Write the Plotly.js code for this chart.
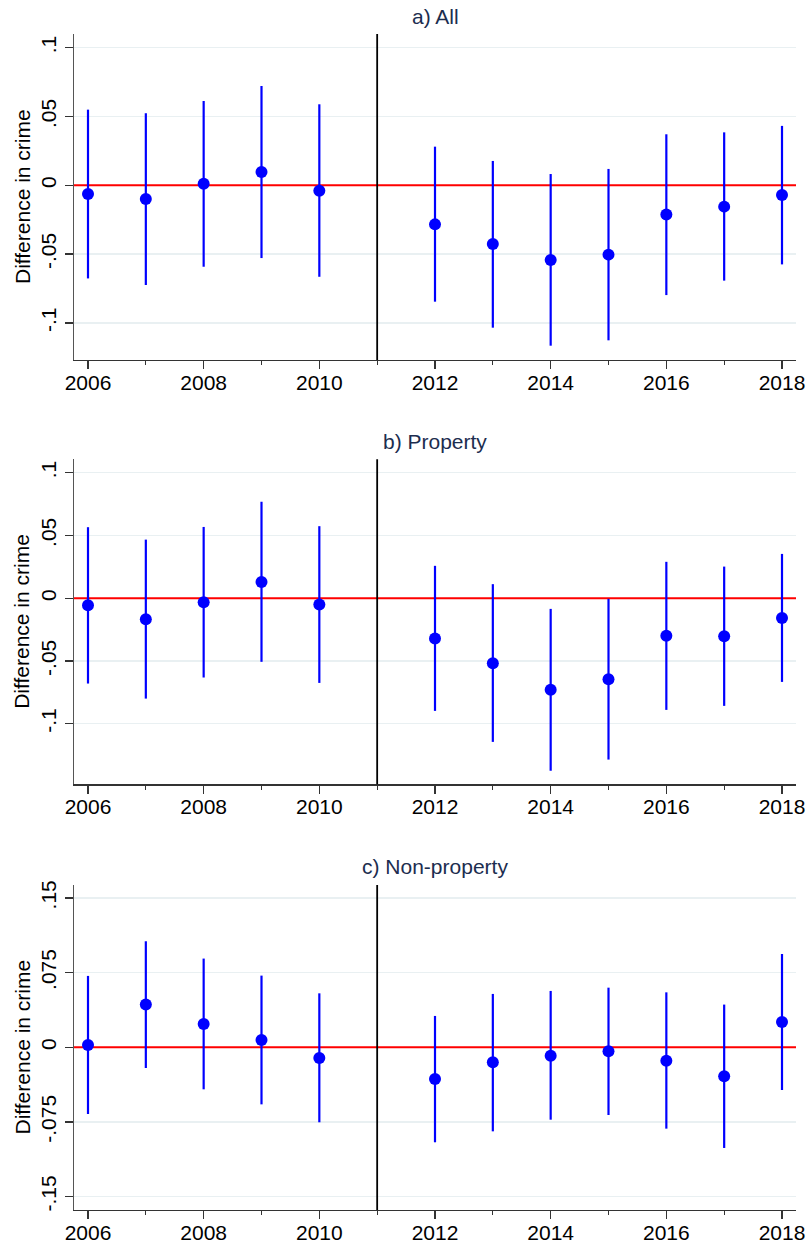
<!DOCTYPE html>
<html>
<head>
<meta charset="utf-8">
<script src="https://cdn.plot.ly/plotly-3.0.1.min.js"></script>
<style>
  html, body { margin: 0; padding: 0; background: #ffffff; }
  #chart { width: 808px; height: 1246px; }
</style>
</head>
<body>
<div id="chart"></div>
<script>
// Event-study estimates with 95% confidence intervals, by year
const years = [2006, 2007, 2008, 2009, 2010, 2012, 2013, 2014, 2015, 2016, 2017, 2018];

// a) All crime
const allEst = [-0.0063, -0.0100, 0.0012, 0.0097, -0.0039, -0.0284, -0.0427, -0.0543, -0.0504, -0.0213, -0.0155, -0.0070];
const allLo  = [-0.0677, -0.0725, -0.0592, -0.0529, -0.0665, -0.0846, -0.1035, -0.1166, -0.1127, -0.0798, -0.0693, -0.0575];
const allHi  = [0.0550, 0.0524, 0.0613, 0.0722, 0.0589, 0.0281, 0.0177, 0.0082, 0.0119, 0.0371, 0.0385, 0.0432];

// b) Property crime
const propEst = [-0.0056, -0.0167, -0.0032, 0.0130, -0.0050, -0.0321, -0.0518, -0.0730, -0.0645, -0.0300, -0.0303, -0.0157];
const propLo  = [-0.0680, -0.0800, -0.0632, -0.0507, -0.0675, -0.0898, -0.1145, -0.1376, -0.1286, -0.0890, -0.0858, -0.0667];
const propHi  = [0.0566, 0.0467, 0.0568, 0.0768, 0.0574, 0.0258, 0.0112, -0.0085, -0.0005, 0.0290, 0.0252, 0.0353];

// c) Non-property crime
const nonEst = [0.0023, 0.0429, 0.0234, 0.0074, -0.0107, -0.0318, -0.0151, -0.0084, -0.0040, -0.0134, -0.0291, 0.0254];
const nonLo  = [-0.0670, -0.0208, -0.0422, -0.0573, -0.0753, -0.0954, -0.0844, -0.0727, -0.0680, -0.0817, -0.1011, -0.0429];
const nonHi  = [0.0717, 0.1065, 0.0891, 0.0720, 0.0542, 0.0315, 0.0536, 0.0566, 0.0599, 0.0552, 0.0429, 0.0937];

const panelTitles = ['a) All', 'b) Property', 'c) Non-property'];
const yTitle = 'Difference in crime';
const xTickVals = [2006, 2008, 2010, 2012, 2014, 2016, 2018];
const xMinorVals = [2007, 2009, 2011, 2013, 2015, 2017];
const yTickVals = [[-0.1, -0.05, 0, 0.05, 0.1], [-0.1, -0.05, 0, 0.05, 0.1], [-0.15, -0.075, 0, 0.075, 0.15]];
const yTickText = [['-.1', '-.05', '0', '.05', '.1'], ['-.1', '-.05', '0', '.05', '.1'], ['-.15', '-.075', '0', '.075', '.15']];
const treatYear = 2011;
const refLevel = 0;

const W = 808, H = 1246;
const FONT = 'Liberation Sans, Arial, sans-serif';
const BLUE = '#0000ff';

// plot areas in pixels: [top, bottom]
const rows = [[34, 360], [459.3, 784.3], [885, 1210]];
const plotLeft = 74, plotRight = 796;
const yRanges = [[-0.127, 0.110], [-0.1483, 0.1107], [-0.1634, 0.163]];
const xRange = [2005.758, 2018.242];
const titleY = [17, 441.7, 866.7];

const series = [[allEst, allLo, allHi], [propEst, propLo, propHi], [nonEst, nonLo, nonHi]];

const data = [];
const layout = {
  width: W, height: H,
  margin: {l: 0, r: 0, t: 0, b: 0},
  paper_bgcolor: '#ffffff',
  plot_bgcolor: '#ffffff',
  showlegend: false,
  font: {family: FONT, size: 21, color: '#000000'},
  annotations: [],
  shapes: []
};

series.forEach((s, i) => {
  const [est, lo, hi] = s;
  const sfx = i === 0 ? '' : String(i + 1);

  // zero reference line, drawn first so the estimates sit on top of it
  data.push({
    type: 'scatter', mode: 'lines',
    x: xRange, y: [refLevel, refLevel],
    xaxis: 'x' + sfx, yaxis: 'y' + sfx,
    line: {color: '#ff0000', width: 2},
    hoverinfo: 'skip', cliponaxis: true
  });

  data.push({
    type: 'scatter', mode: 'markers',
    x: years, y: est,
    xaxis: 'x' + sfx, yaxis: 'y' + sfx,
    marker: {color: BLUE, size: 12},
    error_y: {
      type: 'data', symmetric: false,
      array: hi.map((h, k) => h - est[k]),
      arrayminus: lo.map((l, k) => est[k] - l),
      color: BLUE, thickness: 2.2, width: 0
    },
    hoverinfo: 'x+y'
  });

  const top = rows[i][0], bot = rows[i][1];
  layout['xaxis' + sfx] = {
    domain: [plotLeft / W, plotRight / W],
    anchor: 'y' + sfx,
    range: xRange,
    tickvals: xTickVals,
    ticktext: xTickVals.map(String),
    ticks: 'outside', ticklen: 8, tickwidth: 1.3, tickcolor: '#333333',
    ticklabelstandoff: -5,
    minor: {tickvals: xMinorVals, ticks: 'outside', ticklen: 4, tickwidth: 1.3, tickcolor: '#333333', showgrid: false},
    showline: true, linecolor: '#333333', linewidth: 1.4,
    showgrid: false, zeroline: false,
    tickfont: {family: FONT, size: 21, color: '#000000'}
  };
  layout['yaxis' + sfx] = {
    domain: [1 - bot / H, 1 - top / H],
    anchor: 'x' + sfx,
    range: yRanges[i],
    tickvals: yTickVals[i],
    ticktext: yTickText[i],
    tickangle: -90,
    ticks: 'outside', ticklen: 8, tickwidth: 1.3, tickcolor: '#333333',
    showline: true, linecolor: '#555555', linewidth: 1.4,
    showgrid: true, gridcolor: '#e9f0f2', gridwidth: 1.3,
    zeroline: false,
    tickfont: {family: FONT, size: 21, color: '#000000'}
  };

  // treatment year marker
  layout.shapes.push({
    type: 'line', xref: 'x' + sfx, yref: 'y' + sfx + ' domain',
    x0: treatYear, x1: treatYear, y0: 0, y1: 1,
    line: {color: '#000000', width: 1.8}, layer: 'above'
  });

  layout.annotations.push({
    text: panelTitles[i], xref: 'paper', yref: 'paper',
    x: (plotLeft + plotRight) / 2 / W, y: 1 - titleY[i] / H,
    xanchor: 'center', yanchor: 'middle', showarrow: false,
    font: {family: FONT, size: 21, color: '#1c2d4f'}
  });
  layout.annotations.push({
    text: yTitle, xref: 'paper', yref: 'paper',
    x: 22 / W, y: 1 - (top + bot) / 2 / H,
    xanchor: 'center', yanchor: 'middle', textangle: -90, showarrow: false,
    font: {family: FONT, size: 21, color: '#000000'}
  });
});

Plotly.newPlot('chart', data, layout, {displayModeBar: false, staticPlot: true});
</script>
</body>
</html>
